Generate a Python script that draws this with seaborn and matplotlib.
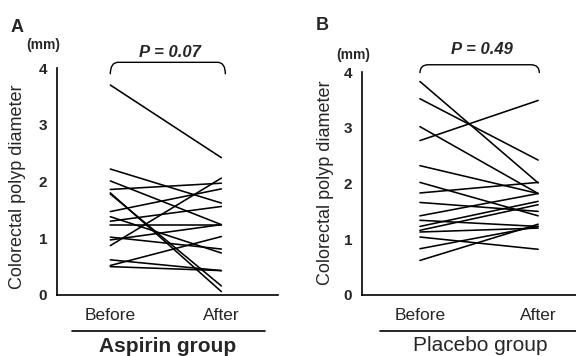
import numpy as np
import pandas as pd
import matplotlib
matplotlib.use('Agg')
import matplotlib.pyplot as plt
from matplotlib.path import Path
from matplotlib.patches import PathPatch
import seaborn as sns

# Colorectal polyp diameter (mm), before and after, one pair per patient
aspirin_before = [3.70, 2.22, 2.01, 1.86, 1.80, 1.78, 1.47, 1.38,
                  1.30, 1.24, 1.02, 0.97, 0.87, 0.62, 0.52, 0.50]
aspirin_after = [2.42, 1.62, 1.24, 1.97, 0.06, 0.16, 1.87, 0.74,
                 1.56, 1.24, 0.81, 1.24, 2.06, 0.43, 1.03, 0.43]

placebo_before = [3.83, 3.52, 3.02, 2.77, 2.32, 2.02, 1.83, 1.66,
                  1.42, 1.34, 1.23, 1.16, 1.13, 1.04, 0.83, 0.62]
placebo_after = [2.01, 2.42, 1.82, 3.49, 1.82, 1.42, 2.02, 1.50,
                 1.82, 1.23, 1.68, 1.62, 1.20, 0.82, 1.23, 1.27]

time_labels = ['Before', 'After']
group_names = ['Aspirin group', 'Placebo group']
p_values = ['0.07', '0.49']
yticks = [0, 1, 2, 3, 4]


def to_long(before, after):
    n = len(before)
    return pd.DataFrame({
        'patient': list(range(n)) * 2,
        'time': [0] * n + [1] * n,
        'diameter': list(before) + list(after),
    })


def brace(ax, x0, x1, ytop, ybot, rx=0.07, ry=0.12):
    verts = [(x0, ybot), (x0, ytop), (x0 + rx, ytop),
             (x1 - rx, ytop), (x1, ytop), (x1, ybot)]
    codes = [Path.MOVETO, Path.CURVE3, Path.CURVE3,
             Path.LINETO, Path.CURVE3, Path.CURVE3]
    ax.add_patch(PathPatch(Path(verts, codes), fill=False, lw=1.0,
                           color='black', clip_on=False))


sns.set_style('white')
plt.rcParams['font.family'] = ['Liberation Sans', 'DejaVu Sans']

fig = plt.figure(figsize=(5.76, 3.56), dpi=100)
ax_a = fig.add_axes([57 / 576, 61 / 356, 221 / 576, 227 / 356])
ax_b = fig.add_axes([362 / 576, 61 / 356, 214 / 576, 223 / 356])

panels = [
    (ax_a, aspirin_before, aspirin_after, (-0.48, 1.51), 1.036, 4.10, 3.89,
     0.54, 4.28, 0.502, 'bold'),
    (ax_b, placebo_before, placebo_after, (-0.49, 1.32), 1.01, 4.13, 3.98,
     0.525, 4.40, 0.551, 'normal'),
]

for i, (ax, before, after, xlim, bx1, btop, bbot, px, py, gx, gw) in enumerate(panels):
    df = to_long(before, after)
    sns.lineplot(data=df, x='time', y='diameter', units='patient',
                 estimator=None, color='black', lw=1.15, ax=ax, legend=False)
    ax.set_xlim(*xlim)
    ax.set_ylim(0, 4)
    ax.set_xticks([0, 1])
    ax.set_xticklabels(time_labels, fontsize=12.5)
    ax.set_yticks(yticks)
    ax.set_yticklabels([str(t) for t in yticks], fontsize=11, fontweight='bold')
    ax.tick_params(axis='x', length=0, pad=9)
    ax.tick_params(axis='y', length=0, pad=7)
    ax.set_xlabel('')
    ax.set_ylabel('')
    for side in ['top', 'right']:
        ax.spines[side].set_visible(False)
    for side in ['left', 'bottom']:
        ax.spines[side].set_linewidth(1.2)
        ax.spines[side].set_color('black')

    brace(ax, 0.0, bx1, btop, bbot)
    ax.text(px, py, 'P = ' + p_values[i], fontsize=12, fontweight='bold',
            fontstyle='italic', ha='center', va='center', clip_on=False)

    # group underline and name
    if i == 0:
        ax.plot([0.068, 0.941], [-0.159, -0.159], color='black', lw=1.2,
                transform=ax.transAxes, clip_on=False)
    else:
        ax.plot([0.084, 1.0], [-0.161, -0.161], color='black', lw=1.2,
                transform=ax.transAxes, clip_on=False)
    ax.text(gx, -0.225, group_names[i], fontsize=15, fontweight=gw,
            ha='center', va='center', transform=ax.transAxes)

# y labels, units and panel letters
fig.text(18 / 576, 1 - 187 / 356, 'Colorectal polyp diameter', rotation=90,
         fontsize=13, ha='center', va='center')
fig.text(325 / 576, 1 - 183 / 356, 'Colorectal polyp diameter', rotation=90,
         fontsize=13, ha='center', va='center')
fig.text(43 / 576, 1 - 45 / 356, '(mm)', fontsize=10, fontweight='bold',
         ha='center', va='center')
fig.text(353 / 576, 1 - 55 / 356, '(mm)', fontsize=10, fontweight='bold',
         ha='center', va='center')
fig.text(17 / 576, 1 - 27 / 356, 'A', fontsize=13, fontweight='bold',
         ha='center', va='center')
fig.text(322 / 576, 1 - 26 / 356, 'B', fontsize=13, fontweight='bold',
         ha='center', va='center')

fig.savefig('out.png', dpi=100, facecolor='white')
